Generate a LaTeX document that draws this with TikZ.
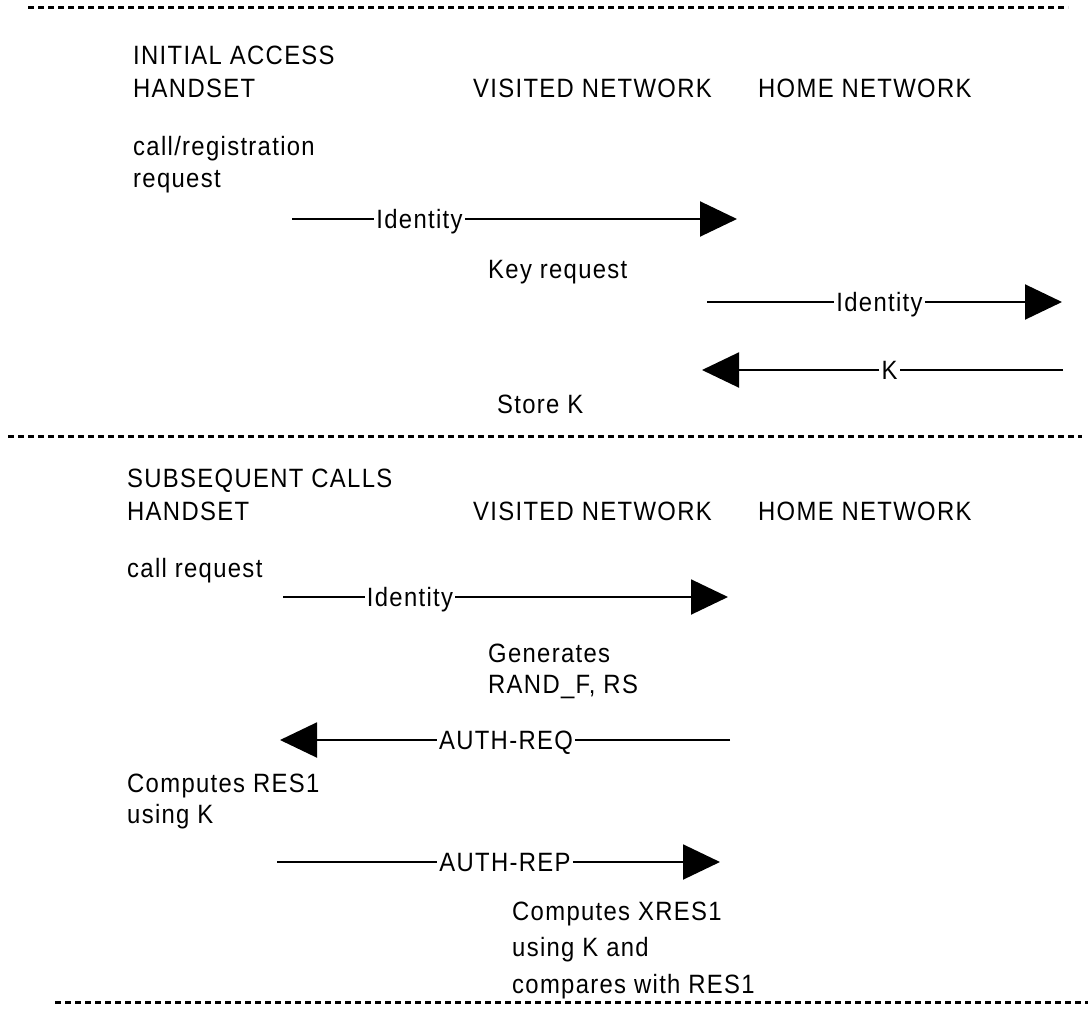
\documentclass[tikz,border=0pt]{standalone}
\usepackage{fontspec}
\setmainfont{Liberation Sans}[FakeStretch=0.9,LetterSpace=5]
\usetikzlibrary{arrows.meta}
\tikzset{
  txt/.style={anchor=base west, align=left, inner sep=0pt, font=\fontsize{26.5}{33}\selectfont},
  msg/.style={line width=2pt},
  msgtip/.style={line width=2pt, -{Triangle[length=37pt,width=35pt]}},
  msglabel/.style={fill=white, inner xsep=2pt, inner ysep=3pt, text height=19pt, text depth=0pt, font=\fontsize{26.5}{33}\selectfont},
  divider/.style={line width=3pt, dash pattern=on 6pt off 4pt}
}
\begin{document}
\begin{tikzpicture}[x=1pt,y=-1pt]
\useasboundingbox (0,0) rectangle (1088,1012);
% dividers
\coordinate (d1a) at (28,7);   \coordinate (d1b) at (1068,7);
\coordinate (d2a) at (8,436);  \coordinate (d2b) at (1082,436);
\coordinate (d3a) at (55,1002); \coordinate (d3b) at (1088,1002);
\draw[divider] (d1a) -- (d1b);
\draw[divider] (d2a) -- (d2b);
\draw[divider] (d3a) -- (d3b);

% initial access (multi-line texts sit on their last baseline)
\node[txt] (hs1) at (133,97) {INITIAL ACCESS\\HANDSET};
\node[txt] (vn1) at (473,97) {VISITED NETWORK};
\node[txt] (hn1) at (758,97) {HOME NETWORK};
\node[txt, font=\fontsize{26.5}{32}\selectfont] (req1) at (133,187) {call/registration\\request};
\node[txt] (keyreq) at (488,278) {Key request};
\node[txt] (store) at (497,413) {Store K};

\coordinate (m1s) at (292,219);
\node[msglabel] (m1l) at (419.5,219) {Identity};
\coordinate (m1e) at (737,219);
\draw[msg] (m1s) -- (m1l);
\draw[msgtip] (m1l) -- (m1e);

\coordinate (m2s) at (707,302);
\node[msglabel] (m2l) at (879.5,302) {Identity};
\coordinate (m2e) at (1062,302);
\draw[msg] (m2s) -- (m2l);
\draw[msgtip] (m2l) -- (m2e);

\coordinate (m3s) at (1063,370);
\node[msglabel] (m3l) at (889.5,370) {K};
\coordinate (m3e) at (702,370);
\draw[msg] (m3s) -- (m3l);
\draw[msgtip] (m3l) -- (m3e);

% subsequent calls
\node[txt] (hs2) at (127,520) {SUBSEQUENT CALLS\\HANDSET};
\node[txt] (vn2) at (473,520) {VISITED NETWORK};
\node[txt] (hn2) at (758,520) {HOME NETWORK};
\node[txt] (req2) at (127,577) {call request};
\node[txt, font=\fontsize{26.5}{31}\selectfont] (gen) at (488,693) {Generates\\RAND\_F, RS};
\node[txt, font=\fontsize{26.5}{31}\selectfont] (res1) at (127,823) {Computes RES1\\using K};
\node[txt, font=\fontsize{26.5}{36.5}\selectfont] (xres1) at (512,993) {Computes XRES1\\using K and\\compares with RES1};

\coordinate (m4s) at (283,597);
\node[msglabel] (m4l) at (410,597) {Identity};
\coordinate (m4e) at (728,597);
\draw[msg] (m4s) -- (m4l);
\draw[msgtip] (m4l) -- (m4e);

\coordinate (m5s) at (730,740);
\node[msglabel] (m5l) at (506,740) {AUTH-REQ};
\coordinate (m5e) at (280,740);
\draw[msg] (m5s) -- (m5l);
\draw[msgtip] (m5l) -- (m5e);

\coordinate (m6s) at (277,862);
\node[msglabel] (m6l) at (505,862) {AUTH-REP};
\coordinate (m6e) at (720,862);
\draw[msg] (m6s) -- (m6l);
\draw[msgtip] (m6l) -- (m6e);
\end{tikzpicture}
\end{document}
